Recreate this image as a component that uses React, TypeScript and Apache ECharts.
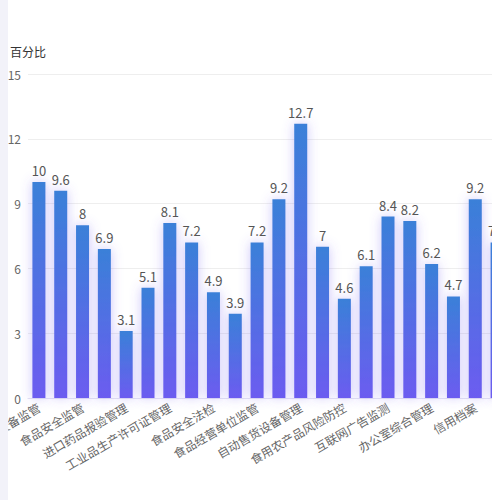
import { useEffect, useRef } from 'react'
import * as echarts from 'echarts'

const categories = [
  '特种设备监管', '药品流通监管', '食品安全监管', '医疗器械监管', '进口药品报验管理',
  '化妆品监管', '工业品生产许可证管理', '计量器具管理', '食品安全法检', '价格监督检查',
  '食品经营单位监管', '标准化管理', '自动售货设备管理', '商标管理', '食用农产品风险防控',
  '合同监管', '互联网广告监测', '消费者权益保护', '办公室综合管理', '企业登记注册',
  '信用档案', '知识产权保护'
]
const values = [10, 9.6, 8, 6.9, 3.1, 5.1, 8.1, 7.2, 4.9, 3.9, 7.2, 9.2, 12.7, 7, 4.6, 6.1, 8.4, 8.2, 6.2, 4.7, 9.2, 7.2]
const yTicks = [0, 3, 6, 9, 12, 15]

const BarChart = () => {
  const chartRef = useRef<HTMLDivElement>(null)

  useEffect(() => {
    if (!chartRef.current) return
    const chart = echarts.init(chartRef.current, undefined, { renderer: 'svg' })

    chart.setOption({
      animation: false,
      textStyle: { fontFamily: '"Noto Sans CJK SC", sans-serif' },
      grid: { left: 20, right: 20, top: 66, bottom: 102, containLabel: false, outerBoundsMode: 'none' },
      xAxis: {
        type: 'category',
        data: categories,
        axisLine: { lineStyle: { color: '#e4e2f3' } },
        axisTick: { show: false },
        axisLabel: { interval: 1, rotate: 30, color: '#666', fontSize: 12, margin: 8 }
      },
      yAxis: {
        type: 'value',
        name: '百分比',
        nameTextStyle: { color: '#333', fontSize: 12, padding: [0, 0, 2, 0] },
        min: yTicks[0],
        max: yTicks[yTicks.length - 1],
        interval: 3,
        axisLabel: { color: '#666', fontSize: 12, margin: 7 },
        splitLine: { lineStyle: { color: '#eeeeee' } }
      },
      series: [
        {
          type: 'bar',
          data: values,
          barWidth: 13,
          label: { show: true, position: 'top', color: '#555', fontSize: 13 },
          itemStyle: {
            color: new echarts.graphic.LinearGradient(0, 0, 0, 1, [
              { offset: 0, color: '#3a80d8' },
              { offset: 1, color: '#6c5cf0' }
            ]),
            shadowColor: 'rgba(110, 90, 240, 0.35)',
            shadowBlur: 12
          }
        }
      ]
    })

    return () => {
      chart.dispose()
    }
  }, [])

  return (
    <div style={{ width: 492, height: 492, overflow: 'hidden' }}>
      <div ref={chartRef} style={{ width: 520, height: 492 }} />
    </div>
  )
}

export default function App() {
  return (
    <>
      <div style={{ position: 'fixed', left: 0, top: 0, width: 8, height: '100%', background: '#f2f2f9' }} />
      <BarChart />
    </>
  )
}
